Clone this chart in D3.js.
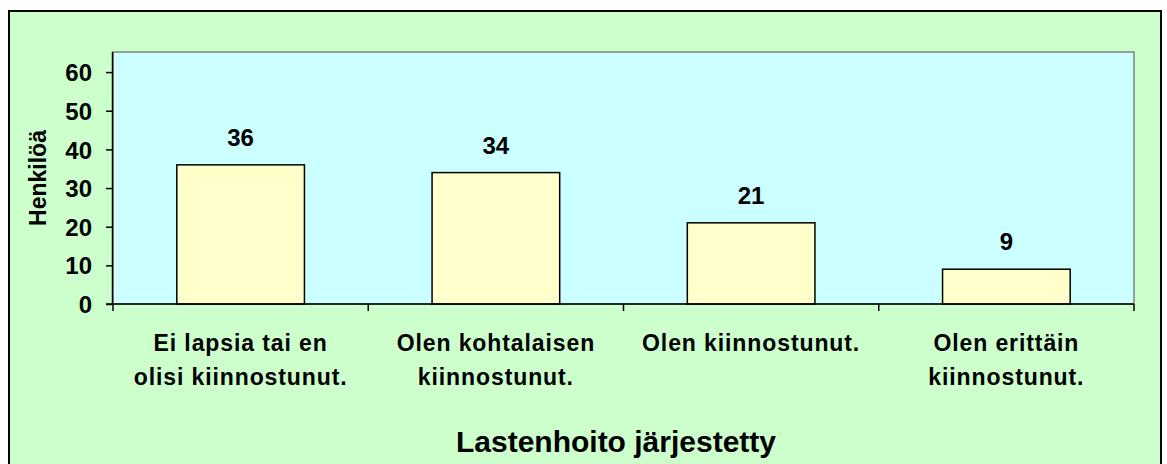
<!DOCTYPE html>
<html>
<head>
<meta charset="utf-8">
<script src="https://cdn.jsdelivr.net/npm/d3@7"></script>
<style>
  html, body { margin: 0; padding: 0; background: #ffffff; }
  svg { display: block; }
</style>
</head>
<body>
<script>
const categories = [
  ["Ei lapsia tai en", "olisi kiinnostunut."],
  ["Olen kohtalaisen", "kiinnostunut."],
  ["Olen kiinnostunut."],
  ["Olen erittäin", "kiinnostunut."]
];
const values = [36, 34, 21, 9];
const yTicks = [0, 10, 20, 30, 40, 50, 60];
const yTitle = "Henkilöä";
const xTitle = "Lastenhoito järjestetty";

const W = 1167, H = 464;
const svg = d3.select("body").append("svg").attr("width", W).attr("height", H);
const font = "Arial, 'Liberation Sans', sans-serif";

// chart area background
svg.append("rect").attr("x", 9).attr("y", 11).attr("width", 1152).attr("height", 470)
  .attr("fill", "#CCFFCC").attr("stroke", "#000").attr("stroke-width", 2);

const plot = { left: 113, right: 1134, top: 52, bottom: 304 };
const x = d3.scaleBand().domain(d3.range(values.length))
  .range([plot.left, plot.right]).paddingInner(0.5).paddingOuter(0.25);
const y = d3.scaleLinear().domain([0, 65.2]).range([plot.bottom, plot.top]);

// plot area
svg.append("rect").attr("x", plot.left).attr("y", plot.top)
  .attr("width", plot.right - plot.left).attr("height", plot.bottom - plot.top)
  .attr("fill", "#CCFFFF").attr("stroke", "#808080").attr("stroke-width", 1.5);

// bars
svg.selectAll("rect.bar").data(values).enter().append("rect").attr("class", "bar")
  .attr("x", (d, i) => x(i)).attr("width", x.bandwidth())
  .attr("y", d => y(d)).attr("height", d => y(0) - y(d))
  .attr("fill", "#FFFFCC").attr("stroke", "#000").attr("stroke-width", 1.5);

// value labels
svg.selectAll("text.val").data(values).enter().append("text").attr("class", "val")
  .attr("x", (d, i) => x(i) + x.bandwidth() / 2).attr("y", d => y(d) - 19)
  .attr("text-anchor", "middle").attr("font-family", font).attr("font-weight", "bold")
  .attr("font-size", 24).attr("fill", "#000").text(d => d);

// y axis
const yAxis = d3.axisLeft(y).tickValues(yTicks).tickSize(7).tickPadding(14);
const gy = svg.append("g").attr("transform", `translate(${plot.left},0)`).call(yAxis);
gy.select(".domain").attr("stroke", "#000").attr("stroke-width", 1.5).attr("d", `M-0.5,${plot.top}V${plot.bottom}`);
gy.selectAll(".tick line").attr("stroke", "#000").attr("stroke-width", 1.5);
gy.selectAll(".tick text").attr("font-family", font).attr("font-weight", "bold")
  .attr("font-size", 24).attr("fill", "#000").attr("dy", "0.36em");

// x axis line and ticks at category boundaries
const bounds = d3.range(values.length + 1).map(i => plot.left + i * x.step());
svg.append("line").attr("x1", plot.left - 7).attr("x2", plot.right)
  .attr("y1", plot.bottom).attr("y2", plot.bottom).attr("stroke", "#000").attr("stroke-width", 1.5);
svg.selectAll("line.xt").data(bounds).enter().append("line").attr("class", "xt")
  .attr("x1", d => d).attr("x2", d => d).attr("y1", plot.bottom).attr("y2", plot.bottom + 7)
  .attr("stroke", "#000").attr("stroke-width", 1.5);

// category labels
const cl = svg.selectAll("text.cat").data(categories).enter().append("text").attr("class", "cat")
  .attr("text-anchor", "middle").attr("font-family", font).attr("font-weight", "bold")
  .attr("font-size", 23).attr("letter-spacing", 0.9).attr("fill", "#000");
cl.selectAll("tspan").data((d, i) => d.map(t => ({ t, i }))).enter().append("tspan")
  .attr("x", d => x(d.i) + x.bandwidth() / 2)
  .attr("y", (d, j) => 351 + j * 34)
  .text(d => d.t);

// y title
svg.append("text").attr("transform", "translate(46,178) rotate(-90)")
  .attr("text-anchor", "middle").attr("font-family", font).attr("font-weight", "bold")
  .attr("font-size", 23).attr("fill", "#000").text(yTitle);

// x title
svg.append("text").attr("x", 616).attr("y", 452)
  .attr("text-anchor", "middle").attr("font-family", font).attr("font-weight", "bold")
  .attr("font-size", 30).attr("fill", "#000").text(xTitle);
</script>
</body>
</html>
